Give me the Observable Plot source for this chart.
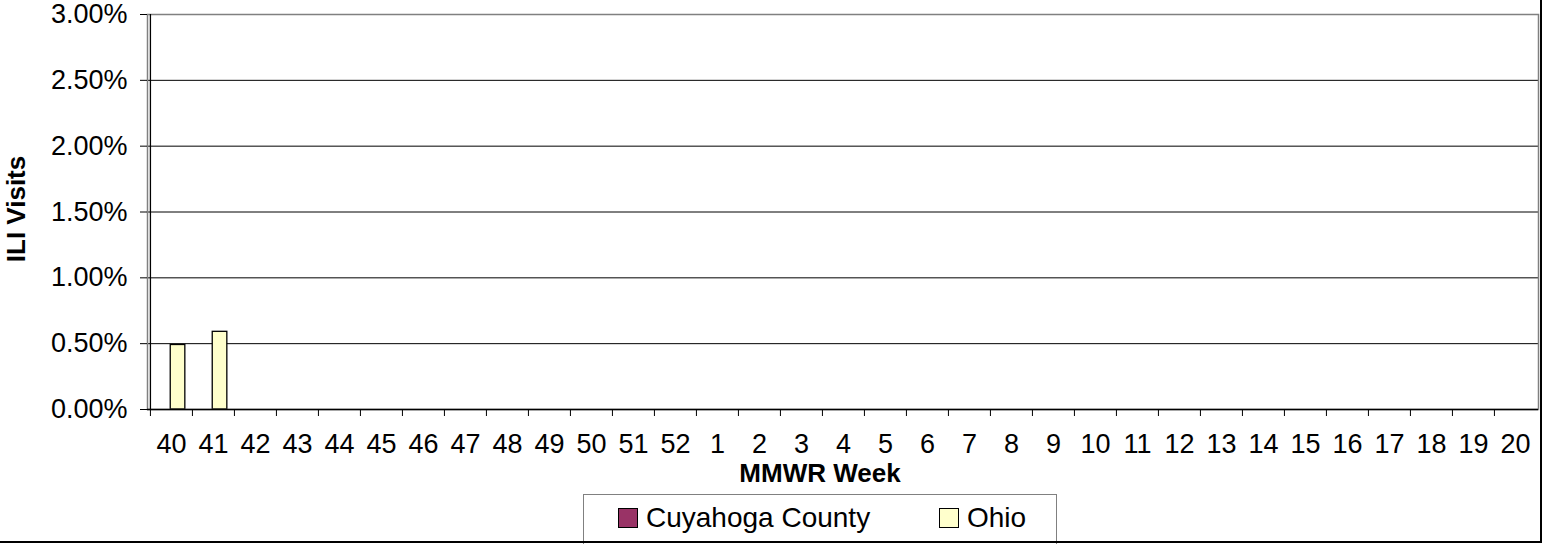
<!DOCTYPE html>
<html>
<head>
<meta charset="utf-8">
<script src="https://cdn.jsdelivr.net/npm/d3@7"></script>
<script src="https://cdn.jsdelivr.net/npm/@observablehq/plot@0.6"></script>
<style>
  html, body { margin: 0; padding: 0; background: #fff; }
  #wrap { position: relative; width: 1548px; height: 544px; overflow: hidden; font-family: "Liberation Sans", Arial, sans-serif; color: #000; }
  #wrap svg { position: absolute; left: 0; top: 0; }
  .outer { position: absolute; left: -5px; top: -5px; width: 1547px; height: 548px; box-sizing: border-box; border: 2px solid #000; pointer-events: none; }
  .ytitle { position: absolute; left: 16px; top: 209px; transform: translate(-50%, -50%) rotate(-90deg); font-weight: bold; font-size: 26px; line-height: 1; white-space: nowrap; }
  .xtitle { position: absolute; left: 820px; top: 460px; transform: translateX(-50%); font-weight: bold; font-size: 26px; line-height: 1; white-space: nowrap; }
  .legend { position: absolute; left: 583px; top: 494px; width: 474px; height: 56px; box-sizing: border-box; border: 1px solid #808080; background: #fff; }
  .item { position: absolute; top: 9px; height: 28px; display: flex; align-items: center; font-size: 28px; line-height: 1; white-space: nowrap; }
  .sw { width: 20px; height: 20px; border: 1.5px solid #000; margin-right: 8px; box-sizing: border-box; }
</style>
</head>
<body>
<div id="wrap"></div>
<script>
// ---- data ----
const weeks = ["40","41","42","43","44","45","46","47","48","49","50","51","52","1","2","3","4","5","6","7","8","9","10","11","12","13","14","15","16","17","18","19","20"];
const seriesNames = ["Cuyahoga County", "Ohio"];
const seriesColors = ["#993366", "#FFFFCC"];
const cuyahogaValues = [null,null,null,null,null,null,null,null,null,null,null,null,null,null,null,null,null,null,null,null,null,null,null,null,null,null,null,null,null,null,null,null,null];
const ohioValues = [0.0049,0.0059,null,null,null,null,null,null,null,null,null,null,null,null,null,null,null,null,null,null,null,null,null,null,null,null,null,null,null,null,null,null,null];
const yTicks = [0, 0.005, 0.01, 0.015, 0.02, 0.025, 0.03];
const xTitle = "MMWR Week";
const yTitle = "ILI Visits";

// ---- build table ----
const rows = [];
weeks.forEach((w, i) => {
  rows.push({week: w, series: seriesNames[0], value: cuyahogaValues[i]});
  rows.push({week: w, series: seriesNames[1], value: ohioValues[i]});
});
const present = rows.filter(d => d.value != null);

const W = 1548, H = 544, mL = 147, mR = 10, mT = 14, mB = 135;
const bw = (W - mL - mR) / weeks.length;
const insets = {
  [seriesNames[0]]: {insetLeft: bw * 0.15, insetRight: bw * 0.5},
  [seriesNames[1]]: {insetLeft: bw * 0.48, insetRight: bw * 0.17}
};

const chart = Plot.plot({
  width: W, height: H,
  marginLeft: mL, marginRight: mR, marginTop: mT, marginBottom: mB,
  style: {fontFamily: '"Liberation Sans", Arial, sans-serif', fontSize: "27px", color: "#000", background: "transparent", overflow: "visible"},
  x: {domain: weeks, padding: 0},
  y: {domain: [0, 0.03]},
  color: {domain: seriesNames, range: seriesColors},
  marks: [
    Plot.gridY(yTicks, {stroke: "#000", strokeOpacity: 1, strokeWidth: 1}),
    ...seriesNames.map(s => Plot.barY(present.filter(d => d.series === s), {
      x: "week", y: "value", fill: "series", stroke: "#000", strokeWidth: 1.3, ...insets[s]
    })),
    Plot.frame({stroke: "#808080", strokeWidth: 1.5}),
    Plot.ruleX([weeks[0]], {dx: -bw / 2, stroke: "#000", strokeWidth: 1.3}),
    Plot.ruleY([0], {stroke: "#000", strokeWidth: 1.3}),
    Plot.axisY({ticks: yTicks, tickFormat: d => (d * 100).toFixed(2) + "%", tickSize: 7, tickPadding: 13, label: null, stroke: "#000", strokeOpacity: 1, fontSize: 27}),
    Plot.axisX({tickSize: 7, dx: -bw / 2, tickFormat: () => "", label: null, stroke: "#000", strokeOpacity: 1}),
    Plot.axisX({tickSize: 0, tickPadding: 24, label: null, fontSize: 27})
  ]
});

const wrap = document.getElementById("wrap");
wrap.appendChild(chart);

const yt = document.createElement("div"); yt.className = "ytitle"; yt.textContent = yTitle; wrap.appendChild(yt);
const xt = document.createElement("div"); xt.className = "xtitle"; xt.textContent = xTitle; wrap.appendChild(xt);

const legend = document.createElement("div"); legend.className = "legend";
const itemLefts = [34, 355];
seriesNames.forEach((s, i) => {
  const it = document.createElement("div"); it.className = "item"; it.style.left = itemLefts[i] + "px";
  const sw = document.createElement("span"); sw.className = "sw"; sw.style.background = seriesColors[i];
  const tx = document.createElement("span"); tx.textContent = s;
  it.appendChild(sw); it.appendChild(tx); legend.appendChild(it);
});
wrap.appendChild(legend);

const outer = document.createElement("div"); outer.className = "outer"; wrap.appendChild(outer);
</script>
</body>
</html>
